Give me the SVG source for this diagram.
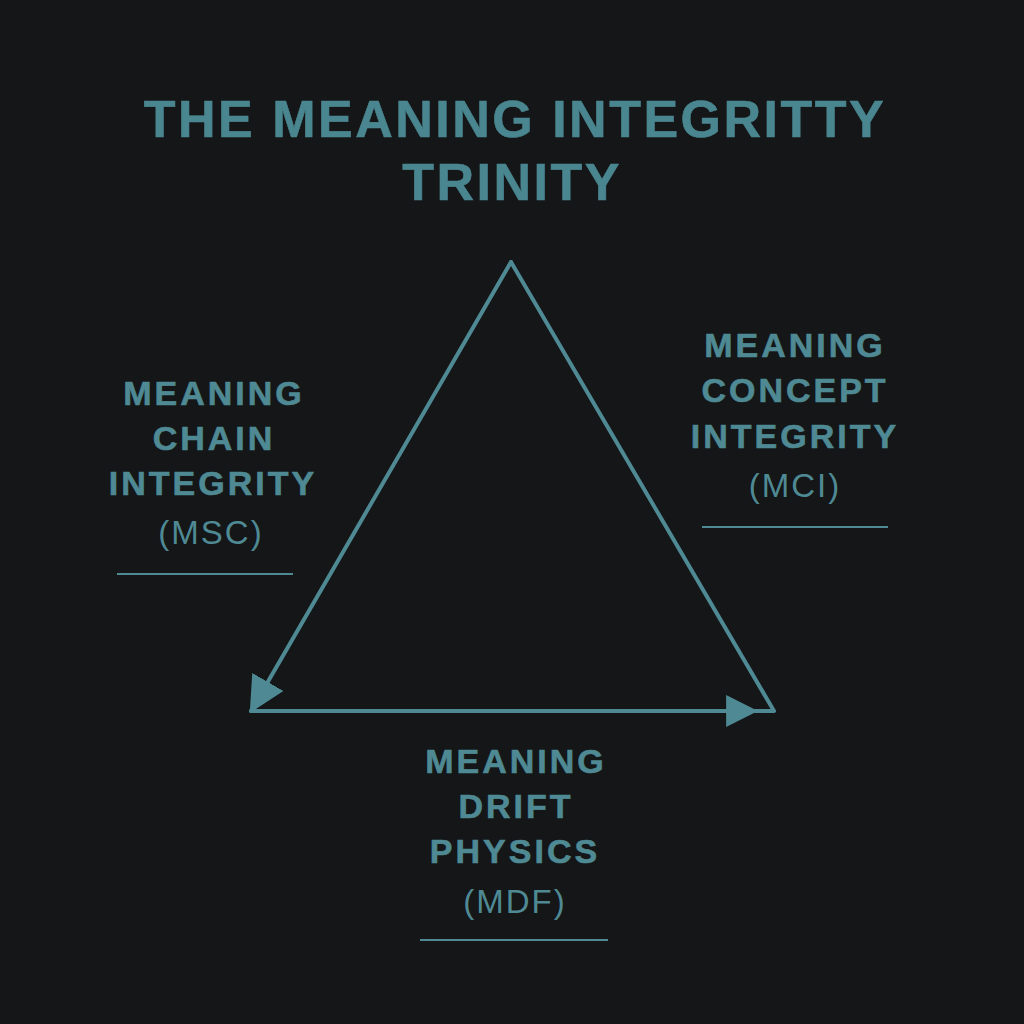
<svg xmlns="http://www.w3.org/2000/svg" width="1024" height="1024" viewBox="0 0 1024 1024">
<style>
.title{font-family:"Liberation Sans",Arial,sans-serif;font-weight:bold;font-size:52px;fill:#4a8690;stroke:#4a8690;stroke-width:0.6;letter-spacing:2.5px;text-anchor:middle}
.lbl{font-family:"Liberation Sans",Arial,sans-serif;font-weight:bold;font-size:34px;fill:#4f8a94;stroke:#4f8a94;stroke-width:0.6;letter-spacing:3px;text-anchor:middle}
.abbr{font-family:"Liberation Sans",Arial,sans-serif;font-size:33px;fill:#4f8a94;letter-spacing:2px;text-anchor:middle}
.edge{stroke:#4f8a94;stroke-width:4;fill:none;stroke-linecap:round;stroke-linejoin:round}
.rule{stroke:#4f8a94;stroke-width:2}
</style>
<defs>
<marker id="arr" viewBox="0 0 30 30" refX="28" refY="15" markerWidth="32" markerHeight="32" markerUnits="userSpaceOnUse" orient="auto">
<path d="M0,0 L30,15 L0,30 Z" fill="#4f8a94"/>
</marker>
<marker id="arrBig" viewBox="0 0 30 30" refX="28" refY="15" markerWidth="36" markerHeight="36" markerUnits="userSpaceOnUse" orient="auto">
<path d="M0,0 L30,15 L0,30 Z" fill="#4f8a94"/>
</marker>
</defs>
<rect width="1024" height="1024" fill="#141617"/>
<g id="title">
<text class="title" x="515" y="137">THE MEANING INTEGRITTY</text>
<text class="title" x="512" y="200">TRINITY</text>
</g>
<g id="connectors">
<line class="edge" x1="511" y1="262" x2="251" y2="711" marker-end="url(#arrBig)"/>
<line class="edge" x1="251" y1="711" x2="756" y2="711" marker-end="url(#arr)"/>
<polyline class="edge" points="511,262 774,711 740,711"/>
</g>
<g id="node-msc">
<text class="lbl" x="214" y="405">MEANING</text>
<text class="lbl" x="214" y="450">CHAIN</text>
<text class="lbl" x="213" y="495">INTEGRITY</text>
<text class="abbr" x="211" y="544">(MSC)</text>
<line class="rule" x1="117" y1="574" x2="293" y2="574"/>
</g>
<g id="node-mci">
<text class="lbl" x="795" y="357">MEANING</text>
<text class="lbl" x="795" y="402">CONCEPT</text>
<text class="lbl" x="795" y="448">INTEGRITY</text>
<text class="abbr" x="795" y="497">(MCI)</text>
<line class="rule" x1="702" y1="527" x2="888" y2="527"/>
</g>
<g id="node-mdf">
<text class="lbl" x="516" y="773">MEANING</text>
<text class="lbl" x="516" y="818">DRIFT</text>
<text class="lbl" x="515" y="863">PHYSICS</text>
<text class="abbr" x="515" y="913">(MDF)</text>
<line class="rule" x1="420" y1="940" x2="608" y2="940"/>
</g>
</svg>
